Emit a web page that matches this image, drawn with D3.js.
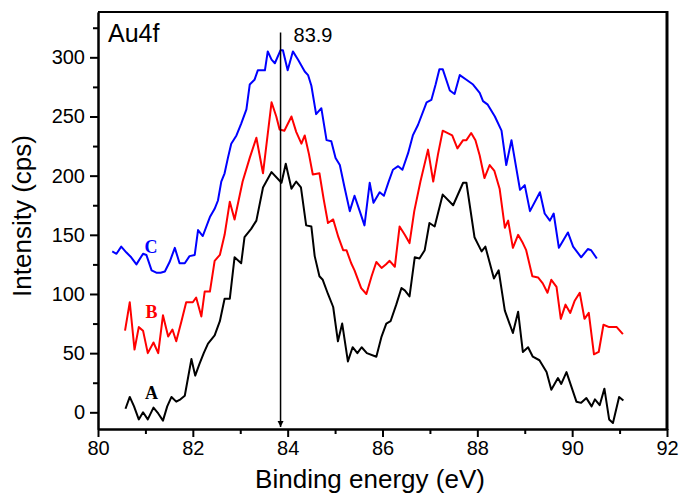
<!DOCTYPE html>
<html>
<head>
<meta charset="utf-8">
<script src="https://cdn.jsdelivr.net/npm/d3@7"></script>
<style>
    body { margin: 0; background: #fff; }
    svg { display: block; font-family: "Liberation Sans", Arial, sans-serif; }
    .axis path, .axis line { stroke: #000; stroke-width: 2; }
    .axis text { font-size: 20px; fill: #000; }
    .label { font-size: 26px; }
    .curveLabel { font-family: "Liberation Serif", "Times New Roman", serif; font-weight: bold; font-size: 18px; }
</style>
</head>
<body>
<svg width="679" height="494"></svg>
<script>
// **** Data: [binding energy (eV), intensity (cps)] ****

var curveA = [
    [80.58, 3], [80.67, 13], [80.76, 5], [80.86, -6], [80.95, 0], [81.05, -6], [81.17, 4],
    [81.27, -1], [81.37, -7], [81.46, 5], [81.55, 13], [81.65, 9], [81.74, 11], [81.83, 14],
    [81.97, 45], [82.05, 31], [82.14, 41], [82.23, 50], [82.32, 58], [82.46, 65], [82.57, 77],
    [82.67, 96], [82.78, 96], [82.88, 131], [83.02, 126], [83.09, 148], [83.23, 155], [83.34, 162],
    [83.48, 190], [83.66, 203], [83.87, 194], [83.96, 210], [84.08, 189], [84.18, 195], [84.28, 190],
    [84.39, 158], [84.5, 157], [84.57, 132], [84.67, 115], [84.74, 112], [84.85, 100], [84.96, 89],
    [85.06, 60], [85.15, 75], [85.27, 43], [85.37, 55], [85.47, 50], [85.56, 55], [85.67, 50],
    [85.87, 47], [85.98, 64], [86.08, 75], [86.17, 77], [86.29, 91], [86.4, 105], [86.47, 103],
    [86.57, 98], [86.68, 131], [86.78, 130], [86.89, 137], [86.99, 160], [87.1, 157], [87.27, 184],
    [87.49, 175], [87.7, 194], [87.77, 194], [87.94, 148], [88.09, 136], [88.17, 140], [88.35, 113],
    [88.45, 120], [88.58, 86], [88.75, 67], [88.86, 85], [88.96, 51], [89.07, 55], [89.17, 47],
    [89.31, 44], [89.46, 34], [89.56, 19], [89.7, 29], [89.77, 24], [89.88, 34], [90.09, 9],
    [90.19, 8], [90.3, 12], [90.41, 5], [90.48, 11], [90.58, 6], [90.68, 20], [90.78, -6],
    [90.86, -9], [90.99, 13], [91.08, 10]
];

var curveB = [
    [80.57, 69], [80.67, 93], [80.77, 53], [80.86, 72], [80.95, 69], [81.05, 50], [81.17, 59],
    [81.27, 50], [81.37, 82], [81.48, 64], [81.57, 70], [81.65, 60], [81.76, 77], [81.86, 93],
    [82.0, 93], [82.07, 97], [82.18, 81], [82.25, 102], [82.36, 102], [82.46, 128], [82.57, 133],
    [82.67, 150], [82.78, 178], [82.88, 163], [83.05, 195], [83.2, 215], [83.34, 232], [83.48, 202],
    [83.66, 262], [83.76, 250], [83.83, 239], [83.93, 238], [84.08, 250], [84.18, 237], [84.29, 227],
    [84.36, 234], [84.45, 218], [84.53, 201], [84.67, 202], [84.76, 180], [84.85, 160], [84.96, 163],
    [85.07, 148], [85.17, 137], [85.24, 137], [85.34, 126], [85.41, 120], [85.55, 105], [85.66, 100],
    [85.77, 115], [85.87, 127], [85.98, 122], [86.07, 125], [86.15, 128], [86.26, 123], [86.36, 157],
    [86.47, 150], [86.57, 143], [86.67, 170], [86.8, 195], [86.96, 222], [87.07, 195], [87.17, 218],
    [87.27, 238], [87.47, 234], [87.58, 223], [87.7, 230], [87.77, 230], [87.87, 236], [87.96, 230],
    [88.05, 217], [88.15, 198], [88.26, 209], [88.36, 204], [88.47, 189], [88.58, 156], [88.65, 162],
    [88.75, 139], [88.86, 150], [88.96, 143], [89.03, 137], [89.16, 115], [89.28, 114], [89.38, 109],
    [89.48, 101], [89.56, 112], [89.67, 106], [89.76, 79], [89.86, 91], [89.96, 84], [90.05, 94],
    [90.16, 101], [90.26, 79], [90.35, 84], [90.46, 49], [90.56, 51], [90.66, 74], [90.78, 72],
    [90.94, 72], [91.07, 66]
];

var curveC = [
    [80.3, 136], [80.39, 134], [80.49, 140], [80.6, 135], [80.7, 131], [80.81, 125], [80.95, 134],
    [81.02, 133], [81.13, 120], [81.23, 118], [81.32, 118], [81.41, 119], [81.51, 127], [81.62, 139],
    [81.72, 126], [81.83, 126], [81.93, 132], [82.04, 133], [82.11, 154], [82.21, 149], [82.36, 165],
    [82.46, 172], [82.53, 179], [82.6, 195], [82.67, 202], [82.74, 215], [82.81, 227], [82.92, 234],
    [83.02, 244], [83.13, 256], [83.2, 277], [83.3, 281], [83.37, 289], [83.52, 289], [83.58, 305],
    [83.66, 298], [83.73, 295], [83.85, 306], [83.9, 306], [84.0, 289], [84.11, 305], [84.22, 298],
    [84.36, 288], [84.43, 285], [84.5, 276], [84.6, 252], [84.71, 257], [84.82, 230], [84.92, 229],
    [85.01, 215], [85.1, 209], [85.2, 190], [85.31, 170], [85.41, 183], [85.52, 170], [85.62, 158],
    [85.73, 194], [85.81, 177], [85.94, 186], [86.03, 183], [86.13, 195], [86.22, 205], [86.33, 208],
    [86.42, 205], [86.54, 219], [86.64, 234], [86.75, 243], [86.93, 262], [87.03, 264], [87.12, 277],
    [87.2, 290], [87.27, 290], [87.42, 272], [87.52, 269], [87.63, 285], [87.77, 281], [87.91, 277],
    [88.05, 270], [88.12, 263], [88.22, 260], [88.37, 250], [88.51, 238], [88.61, 209], [88.72, 230],
    [88.9, 188], [89.0, 192], [89.11, 170], [89.32, 186], [89.42, 168], [89.53, 162], [89.61, 168],
    [89.72, 139], [89.91, 152], [90.02, 140], [90.19, 131], [90.33, 138], [90.4, 137], [90.52, 130]
];

var seriesNames = ['A', 'B', 'C'];
var seriesColors = ['#000000', '#ff0000', '#0000ff'];
// where the letter of each curve sits: [energy, intensity]
var labelPositions = [[81.13, 11], [81.13, 80], [81.12, 135]];

var xTicks = [80, 82, 84, 86, 88, 90, 92];
var xMinorTicks = [81, 83, 85, 87, 89, 91];
var yTicks = [0, 50, 100, 150, 200, 250, 300];
var yMinorTicks = [25, 75, 125, 175, 225, 275, 325];

var peakEnergy = 83.85;   // marked peak, labelled 83.9
var peakLabel = '83.9';

var svg = d3.select('svg');

var svgWidth = +svg.attr('width');
var svgHeight = +svg.attr('height');

var padding = { t: 12, r: 12, b: 65, l: 98 };

var chartWidth = svgWidth - padding.l - padding.r;
var chartHeight = svgHeight - padding.t - padding.b;

var chartG = svg.append('g')
    .attr('transform', `translate(${padding.l}, ${padding.t})`);

// **** Scales ****

var xScale = d3.scaleLinear().domain([80, 92]).range([0, chartWidth]);
var yScale = d3.scaleLinear().domain([-14.1, 338.3]).range([chartHeight, 0]);

// **** Axes ****

chartG.append('g').attr('class', 'x axis')
    .attr('transform', `translate(0, ${chartHeight})`)
    .call(d3.axisBottom(xScale).tickValues(xTicks).tickSize(8).tickSizeOuter(0).tickPadding(4));

chartG.append('g').attr('class', 'x axis minor')
    .attr('transform', `translate(0, ${chartHeight})`)
    .call(d3.axisBottom(xScale).tickValues(xMinorTicks).tickSize(5).tickSizeOuter(0).tickFormat(''));

chartG.append('g').attr('class', 'y axis')
    .call(d3.axisLeft(yScale).tickValues(yTicks).tickSize(8).tickSizeOuter(0).tickPadding(5));

chartG.append('g').attr('class', 'y axis minor')
    .call(d3.axisLeft(yScale).tickValues(yMinorTicks).tickSize(5).tickSizeOuter(0).tickFormat(''));

// frame round the plot
chartG.append('line')
    .attr('x1', 0).attr('x2', chartWidth).attr('y1', 0).attr('y2', 0)
    .attr('stroke', '#000').attr('stroke-width', 2);
chartG.append('line')
    .attr('x1', chartWidth).attr('x2', chartWidth).attr('y1', -1).attr('y2', chartHeight + 1)
    .attr('stroke', '#000').attr('stroke-width', 3);

// axis titles
svg.append('text')
    .attr('class', 'label')
    .attr('text-anchor', 'middle')
    .attr('transform', 'translate(370, 488)')
    .text('Binding energy (eV)');

svg.append('text')
    .attr('class', 'label')
    .attr('text-anchor', 'middle')
    .attr('transform', 'translate(31, 216) rotate(-90)')
    .text('Intensity (cps)');

svg.append('text')
    .attr('x', 108)
    .attr('y', 42)
    .style('font-size', '25px')
    .text('Au4f');

// **** Curves ****

var line = d3.line()
    .x(function(d) { return xScale(d[0]); })
    .y(function(d) { return yScale(d[1]); });

var curves = [curveA, curveB, curveC];

chartG.selectAll('.curve')
    .data(curves)
    .enter()
    .append('path')
    .attr('class', 'curve')
    .attr('d', line)
    .attr('fill', 'none')
    .attr('stroke', function(d, i) { return seriesColors[i]; })
    .attr('stroke-width', 2)
    .attr('stroke-linejoin', 'round');

chartG.selectAll('.curveLabel')
    .data(seriesNames)
    .enter()
    .append('text')
    .attr('class', 'curveLabel')
    .attr('text-anchor', 'middle')
    .attr('x', function(d, i) { return xScale(labelPositions[i][0]); })
    .attr('y', function(d, i) { return yScale(labelPositions[i][1]); })
    .attr('fill', function(d, i) { return seriesColors[i]; })
    .text(function(d) { return d; });

// **** Peak marker ****

svg.append('defs').append('marker')
    .attr('id', 'arrow')
    .attr('viewBox', '0 0 10 10')
    .attr('refX', 10).attr('refY', 5)
    .attr('markerWidth', 6).attr('markerHeight', 8)
    .attr('markerUnits', 'userSpaceOnUse')
    .attr('orient', 'auto')
    .append('path')
    .attr('d', 'M0,0 L10,5 L0,10 Z')
    .attr('fill', '#000');

chartG.append('line')
    .attr('x1', xScale(peakEnergy)).attr('x2', xScale(peakEnergy))
    .attr('y1', yScale(321)).attr('y2', chartHeight - 2)
    .attr('stroke', '#000')
    .attr('stroke-width', 1.5)
    .attr('marker-end', 'url(#arrow)');

chartG.append('text')
    .attr('x', xScale(peakEnergy) + 13)
    .attr('y', yScale(313))
    .style('font-size', '20px')
    .text(peakLabel);
</script>
</body>
</html>
